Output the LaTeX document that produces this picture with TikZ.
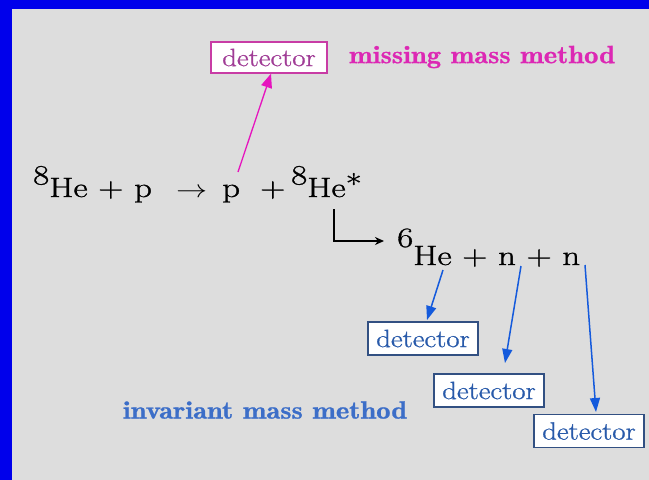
\documentclass[tikz,border=0pt]{standalone}
\usepackage{graphicx}
\usepackage{fontspec}
\setmainfont{Latin Modern Roman}
\newfontfamily\heavyrm{Latin Modern Roman}[FakeBold=0.9]
\newfontfamily\heavybf{Latin Modern Roman Demi}[FakeBold=0.9]
\usetikzlibrary{arrows.meta}
\definecolor{frameblue}{RGB}{0,0,235}
\definecolor{bggray}{RGB}{221,221,221}
\definecolor{magborder}{RGB}{200,60,165}
\definecolor{magtext}{RGB}{160,60,150}
\definecolor{magarrow}{RGB}{230,20,190}
\definecolor{magtitle}{RGB}{220,40,180}
\definecolor{bluborder}{RGB}{50,80,130}
\definecolor{blutext}{RGB}{40,90,170}
\definecolor{bluarrow}{RGB}{20,90,220}
\definecolor{blutitle}{RGB}{60,110,200}
\newcommand{\xstr}[1]{\scalebox{1.25}[1]{#1}}
\newcommand{\xstd}[1]{\scalebox{1.15}[1]{#1}}
\newcommand{\xstb}[1]{\scalebox{1.14}[1]{#1}}
\begin{document}
\begin{tikzpicture}[x=1pt,y=-1pt,
  eq/.style={anchor=base west, inner sep=0pt, font=\heavyrm\fontsize{28}{34}\selectfont},
  mbox/.style={draw=magborder, fill=white, line width=1.3pt, minimum width=116pt, minimum height=31pt, inner sep=0pt, text=magtext, font=\heavyrm\fontsize{25}{28}\selectfont},
  bbox/.style={draw=bluborder, fill=white, line width=1.3pt, minimum width=110pt, minimum height=33pt, inner sep=0pt, text=blutext, font=\heavyrm\fontsize{25}{28}\selectfont},
  titletext/.style={inner sep=0pt, font=\heavybf\fontsize{25}{29}\selectfont},
  barrow/.style={draw=bluarrow, line width=1.5pt, -{Triangle[width=10pt,length=14pt]}},
  marrow/.style={draw=magarrow, line width=1.3pt, -{Triangle[width=11pt,length=14pt]}},
]
\useasboundingbox (0,0) rectangle (649,480);
\fill[frameblue] (0,0) rectangle (649,480);
\fill[bggray] (12,9) rectangle (649,480);

% reaction, first line
\node[eq] (he8) at (33,197) {\xstr{\raisebox{12.5pt}{8}He + p}};
\node[eq] (arr) at (176,197) {\xstr{$\rightarrow$}};
\node[eq] (pout) at (222,197) {\xstr{p}};
\node[eq] (plus2) at (260,197) {\xstr{+}};
\node[eq] (he8s) at (291,197) {\xstr{\raisebox{12.5pt}{8}He\raisebox{3pt}{*}}};

% decay, second line
\node[eq] (he6) at (397,265) {\xstr{\raisebox{18pt}{6}He + n + n}};

% detectors
\node[mbox] (mdet) at (269,57.5) {\xstd{detector}};
\node[titletext, text=magtitle] (mtitle) at (482,57) {\xstb{missing mass method}};

\node[bbox] (d1) at (423,338.5) {\xstd{detector}};
\node[bbox] (d2) at (489,390.5) {\xstd{detector}};
\node[bbox] (d3) at (589,431) {\xstd{detector}};
\node[titletext, text=blutitle] (btitle) at (265,410) {\xstb{invariant mass method}};

% connectors
\coordinate (mtail) at (238,172);
\draw[marrow] (mtail) -- ([xshift=2pt]mdet.south);

\coordinate (lstart) at (334,209);
\coordinate (lend) at (384,241);
\draw[line width=1.5pt, -{Stealth[length=9pt,width=8pt]}] (lstart) |- (lend);

\coordinate (t1) at (443,270);
\coordinate (h1) at (427,320);
\coordinate (t2) at (521,266);
\coordinate (h2) at (505,363);
\coordinate (t3) at (585,265);
\coordinate (h3) at (596,412);
\draw[barrow] (t1) -- (h1);
\draw[barrow] (t2) -- (h2);
\draw[barrow] (t3) -- (h3);
\end{tikzpicture}
\end{document}
